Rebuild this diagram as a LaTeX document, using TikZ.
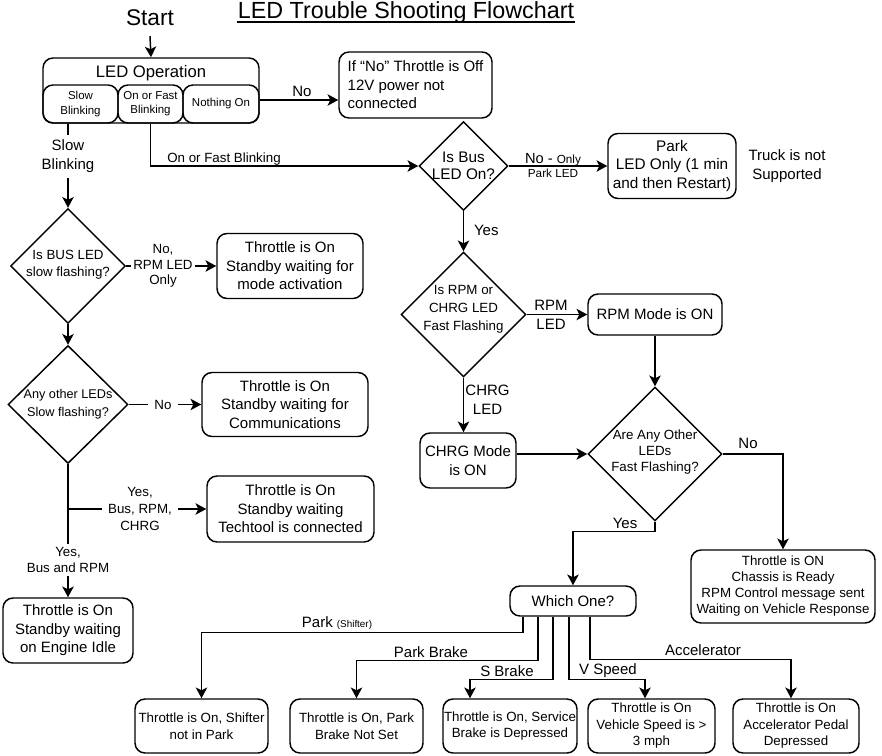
\documentclass[tikz,border=0pt]{standalone}
\usepackage{fontspec}
\setmainfont{Liberation Sans}
\usetikzlibrary{shapes.geometric,arrows.meta,calc}
\newcommand{\fbig}{\fontsize{11.25}{13.9}\selectfont}
\newcommand{\fmed}{\fontsize{10}{12.2}\selectfont}
\newcommand{\fsub}{\fontsize{8.6}{10.6}\selectfont}
\begin{document}
\begin{tikzpicture}[x=0.75pt,y=-0.75pt,line width=1.1pt,
  sz/.style 2 args={minimum width=#1*0.75pt,minimum height=#2*0.75pt},
  box/.style={draw,rounded corners=7.5pt,align=center,inner sep=0pt,font=\fbig},
  dia/.style={draw,diamond,inner sep=0pt},
  dtxt/.style={align=center,inner sep=0pt,font=\fmed},
  arr/.style={-{Stealth[length=8pt,width=8.5pt,inset=2pt]}},
  lbl/.style={align=center,inner sep=1pt,font=\fbig}]
\useasboundingbox (0,0) rectangle (882,756);

% title and start
\node[inner sep=0pt,anchor=base] (title) at (406,19) {\fontsize{17.5}{20}\selectfont LED Trouble Shooting Flowchart};
\draw[line width=1.1pt] ([yshift=-2.4pt]title.base west) -- ([yshift=-2.4pt]title.base east);
\node[inner sep=7pt] (start) at (150,18) {\fontsize{17}{20}\selectfont Start};

% LED operation
\node[draw,rounded corners=7.5pt,sz={216}{65}] (ledop) at (151,90.5) {};
\node[inner sep=0pt] (ledopt) at (151,73) {\fontsize{12.5}{14}\selectfont LED Operation};
\node[box,font=\fsub,sz={75}{38}] (slow) at (80.5,104) {Slow\\Blinking};
\node[box,font=\fsub,sz={65}{38}] (fast) at (150.5,104) {On or Fast\\Blinking};
\node[box,font=\fsub,sz={76}{38}] (nothing) at (221,104) {Nothing On};

\node[box,sz={153}{66},align=left] (ifno) at (415.5,85) {If “No” Throttle is Off\\12V power not\\connected};

% right column
\node[dia,sz={89}{89}] (dbus) at (463.5,166) {};
\node[dtxt,font=\fontsize{11.5}{12.8}\selectfont] (dbust) at (463.5,166) {Is Bus\\LED On?};
\node[box,sz={128}{65},font=\fontsize{11.5}{13.9}\selectfont] (park) at (672,166) {Park\\LED Only (1 min\\and then Restart)};
\node[lbl] (truck) at (787,166) {Truck is not\\Supported};

\node[dia,sz={125}{125}] (d4) at (463.5,314.5) {};
\node[dtxt,font=\fontsize{10}{13.5}\selectfont] (d4t) at (463.5,309) {Is RPM or\\CHRG LED\\Fast Flashing};
\node[box,sz={134}{41}] (rpm) at (655,314.5) {RPM Mode is ON};
\node[box,sz={96}{55}] (chrg) at (468,460.5) {CHRG Mode\\is ON};

\node[dia,sz={134}{134}] (d3) at (655,454) {};
\node[dtxt,font=\fontsize{10}{12}\selectfont] (d3t) at (655,452) {Are Any Other\\LEDs\\Fast Flashing?};
\node[box,sz={184}{73},font=\fontsize{10}{12}\selectfont] (ready) at (783,586.5) {Throttle is ON\\Chassis is Ready\\RPM Control message sent\\Waiting on Vehicle Response};
\node[box,sz={126}{30}] (which) at (573,601) {Which One?};

% left column
\node[lbl,inner sep=3pt,font=\fontsize{11.25}{14.2}\selectfont] (slowl) at (68,156.5) {Slow\\Blinking};
\node[dia,sz={115}{115}] (d1) at (68,266) {};
\node[dtxt,font=\fontsize{10}{12.75}\selectfont] (d1t) at (68,265) {Is BUS LED\\slow flashing?};
\node[lbl,font=\fontsize{10}{11.6}\selectfont] (n1) at (163,266) {No,\\RPM LED\\Only};
\node[box,sz={146}{65}] (modeact) at (290,266) {Throttle is On\\Standby waiting for\\mode activation};

\node[dia,sz={120}{118}] (d2) at (68,404.5) {};
\node[dtxt,font=\fontsize{9.5}{13.5}\selectfont] (d2t) at (68,404) {Any other LEDs\\Slow flashing?};
\node[lbl,inner xsep=4.5pt,font=\fmed] (n2) at (163,404.5) {No};
\node[box,sz={166}{64}] (comm) at (285,404.5) {Throttle is On\\Standby waiting for\\Communications};

\node[lbl,inner xsep=4pt,font=\fontsize{10}{12.4}\selectfont] (y3) at (140,509) {Yes,\\Bus, RPM,\\CHRG};
\node[box,sz={167}{66}] (tech) at (290.5,509) {Throttle is On\\Standby waiting\\Techtool is connected};
\node[lbl,inner sep=2pt,font=\fontsize{10}{12}\selectfont] (y2) at (68,560) {Yes,\\Bus and RPM};
\node[box,sz={130}{65}] (idle) at (68,630.5) {Throttle is On\\Standby waiting\\on Engine Idle};

% bottom row
\tikzset{bbox/.style={box,sz={#1}{54},font=\fontsize{10}{12.4}\selectfont}}
\node[bbox=133] (shifter) at (201.5,726) {Throttle is On, Shifter\\not in Park};
\node[bbox=133] (pbrake) at (356.5,726) {Throttle is On, Park\\Brake Not Set};
\node[bbox=134] (sbrake) at (510,726) {Throttle is On, Service\\Brake is Depressed};
\node[bbox=127] (vspeed) at (651.5,726) {Throttle is On\\Vehicle Speed is >\\3 mph};
\node[bbox=126] (accel) at (796,726) {Throttle is On\\Accelerator Pedal\\Depressed};

% connectors
\draw[arr] (start.south) -- (ledop.north);
\draw[arr] ($(nothing.east)+(0,-4)$) -- ($(ifno.west)+(0,15)$);
\node[lbl] (nolbl) at (302,91) {No};

\draw ($(slow.south)+(-12.5,0)$) -- (slowl.north);
\draw[arr] (slowl.south) -- (d1.north);
\draw[arr] (fast.south) |- (dbus.west);
\node[lbl,font=\fmed] (ofl) at (224,159) {On or Fast Blinking};

\draw[arr] (dbus.east) -- (park.west);
\node[lbl,font=\fontsize{11}{10.5}\selectfont] (nop) at (553,166) {No - {\fontsize{8.8}{10}\selectfont Only}\\{\fontsize{8.8}{10}\selectfont Park LED}};
\draw[arr] (dbus.south) -- (d4.north);
\node[lbl,anchor=west] (yes1) at (472,230) {Yes};

\draw[arr] (d4.east) -- (rpm.west);
\node[lbl,font=\fontsize{11.25}{14.2}\selectfont] (rl) at (551,314.5) {RPM\\LED};
\draw[arr] (d4.south) -- (d4.south |- chrg.north);
\node[lbl,font=\fontsize{11.25}{14.2}\selectfont] (cl) at (487.5,399.5) {CHRG\\LED};
\draw[arr] (rpm.south) -- (d3.north);
\draw[arr] (chrg.east |- d3.west) -- (d3.west);
\draw[arr] (d3.east) -| (ready.north);
\node[lbl] (nol3) at (748,443) {No};
\draw[arr] (d3.south) -- ++(0,10) -| (which.north);
\node[lbl] (yesl3) at (625,523) {Yes};

\draw (d1.east) -- (n1.west);
\draw[arr] (n1.east) -- (modeact.west);
\draw[arr] (d1.south) -- (d2.north);
\draw (d2.east) -- (n2.west);
\draw[arr] (n2.east) -- (comm.west);
\draw (d2.south) -- (y2.north);
\draw[arr] (y2.south) -- (idle.north);
\coordinate (br) at (d2.south |- y3.west);
\draw (br) -- (y3.west);
\draw[arr] (y3.east) -- (tech.west);

\draw[arr] ($(which.south)+(-50,0)$) -- ++(0,16) -| (shifter.north);
\draw[arr] ($(which.south)+(-35,0)$) -- ++(0,44) -| (pbrake.north);
\draw[arr] ($(which.south)+(-20,0)$) -- ++(0,63) -| ($(sbrake.north)+(-40,0)$);
\draw[arr] ($(which.south)+(-4,0)$) -- ++(0,63) -| ($(vspeed.north)+(-6.5,0)$);
\draw[arr] ($(which.south)+(17,0)$) -- ++(0,43) -| ($(accel.north)+(-5,0)$);
\node[lbl] (lpark) at (337,623) {Park {\fontsize{7.4}{9}\selectfont (Shifter)}};
\node[lbl] (lpb) at (431,652) {Park Brake};
\node[lbl] (lsb) at (507,671) {S Brake};
\node[lbl] (lvs) at (608,671) {V Speed};
\node[lbl] (lacc) at (703,650) {Accelerator};
\end{tikzpicture}
\end{document}
